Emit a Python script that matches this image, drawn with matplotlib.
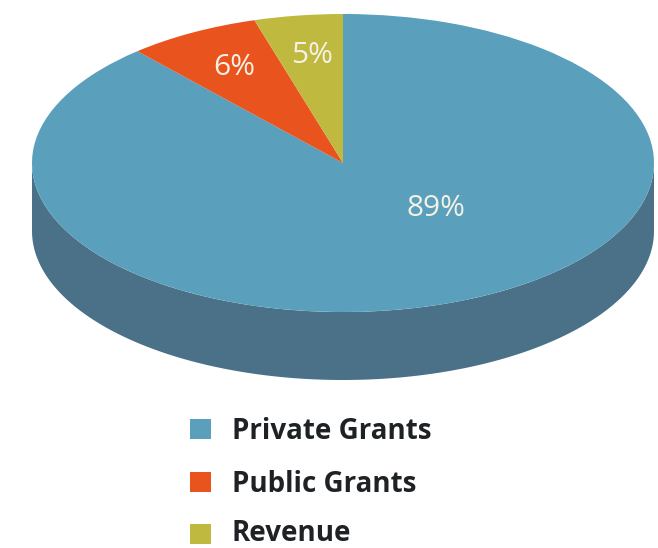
"""3D-look pie chart of funding sources."""

import numpy as np
import matplotlib

matplotlib.use("Agg")
import matplotlib.pyplot as plt
from matplotlib.patches import Wedge, Rectangle
from matplotlib.transforms import Affine2D

labels = ["Private Grants", "Public Grants", "Revenue"]
pct_labels = ["89%", "6%", "5%"]
# slice sizes as drawn, they differ a little from the printed percentages
shares = [88.5, 6.9, 4.6]
colors = ["#5A9FBB", "#E9531D", "#C0B93F"]
side_color = "#4A7187"

W, H = 658, 548
cx, cy = 343, 163
rx, ry = 311, 149
depth = 68

plt.rcParams["font.family"] = ["Open Sans", "DejaVu Sans"]
fig = plt.figure(figsize=(W / 100, H / 100), dpi=100)
ax = fig.add_axes([0, 0, 1, 1])
ax.set_xlim(0, W)
ax.set_ylim(H, 0)
ax.axis("off")

# side wall: lower half of the rim swept down by the depth
t = np.linspace(0, np.pi, 200)
xs = cx + rx * np.cos(t)
ys = cy + ry * np.sin(t)
ax.fill(np.r_[xs, xs[::-1]], np.r_[ys, ys[::-1] + depth], color=side_color, lw=0)

# top face: unit wedges clockwise from 12 o'clock, squashed into the ellipse
# the y axis is flipped, so -90 is straight up and angles grow clockwise
squash = Affine2D().scale(rx, ry).translate(cx, cy) + ax.transData
start = -90.0
for share, color in zip(shares, colors):
    sweep = share / sum(shares) * 360
    ax.add_patch(Wedge((0, 0), 1, start, start + sweep, facecolor=color, lw=0, transform=squash))
    start += sweep

pct_pos = [(436, 216), (234, 75), (312, 63)]
for text, (x, y) in zip(pct_labels, pct_pos):
    ax.text(x, y, text, color="#F4F1E6", fontsize=21.5, ha="center", va="baseline")

swatch_y = [429, 482, 534]
baseline_y = [439, 492, 541]
for label, color, sy, by in zip(labels, colors, swatch_y, baseline_y):
    ax.add_patch(Rectangle((190, sy - 10), 21, 20, facecolor=color, lw=0))
    ax.text(232, by, label, color="#1E2224", fontsize=20, fontweight="bold", ha="left", va="baseline")

fig.savefig("out.png", dpi=100)
